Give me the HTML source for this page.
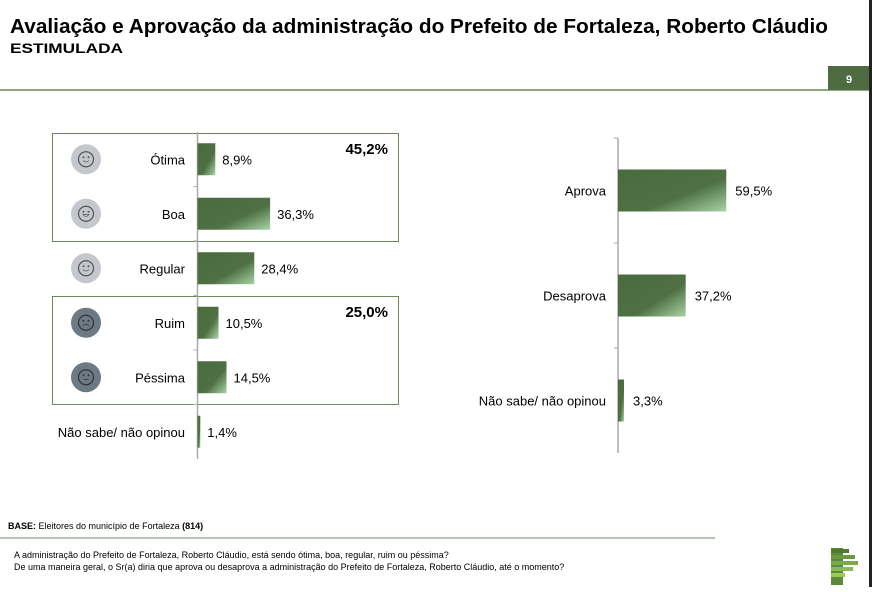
<!DOCTYPE html>
<html><head><meta charset="utf-8"><style>
html,body{margin:0;padding:0;background:#fff;}
body{width:872px;height:587px;overflow:hidden;font-family:"Liberation Sans",sans-serif;}
</style></head><body>
<svg id="chart" width="872" height="587" viewBox="0 0 872 587" xmlns="http://www.w3.org/2000/svg" font-family="Liberation Sans, sans-serif">
<defs>
<linearGradient id="bg" x1="0" y1="0" x2="1" y2="1">
<stop offset="0" stop-color="#4a6b3e"/><stop offset="0.6" stop-color="#4e7042"/><stop offset="1" stop-color="#a9d4a6"/>
</linearGradient>
</defs>
<text x="10" y="33" font-size="20" font-weight="bold" fill="#000" textLength="818" lengthAdjust="spacingAndGlyphs">Avaliação e Aprovação da administração do Prefeito de Fortaleza, Roberto Cláudio</text>
<text x="10" y="53" font-size="14" font-weight="bold" fill="#000" textLength="113" lengthAdjust="spacingAndGlyphs">ESTIMULADA</text>
<line x1="0" y1="90" x2="869" y2="90" stroke="#6b8a5c" stroke-width="1.5"/>
<rect x="828" y="66" width="41" height="24" fill="#4e6b42"/>
<text x="849" y="83" font-size="11" font-weight="bold" fill="#fff" text-anchor="middle">9</text>
<rect x="869" y="0" width="3" height="587" fill="#222"/>

<rect x="52.5" y="133.5" width="346" height="108" fill="none" stroke="#6b8a5c" stroke-width="1"/>
<text x="388" y="154" font-size="15" font-weight="bold" text-anchor="end">45,2%</text>
<rect x="52.5" y="296.5" width="346" height="108" fill="none" stroke="#6b8a5c" stroke-width="1"/>
<text x="388" y="317" font-size="15" font-weight="bold" text-anchor="end">25,0%</text>
<g id="left"></g>
<g id="right"></g>

<text x="8" y="529" font-size="9" fill="#000"><tspan font-weight="bold">BASE:</tspan> Eleitores do município de Fortaleza <tspan font-weight="bold">(814)</tspan></text>
<line x1="0" y1="538" x2="715" y2="538" stroke="#6b8a5c" stroke-width="1"/>
<text x="14" y="558" font-size="9" fill="#000">A administração do Prefeito de Fortaleza, Roberto Cláudio, está sendo ótima, boa, regular, ruim ou péssima?</text>
<text x="14" y="570" font-size="9" fill="#000">De uma maneira geral, o Sr(a) diria que aprova ou desaprova a administração do Prefeito de Fortaleza, Roberto Cláudio,  até o momento?</text>
<g>
<rect x="831" y="548" width="12" height="37" fill="#5a8a3a"/>
<rect x="831" y="549" width="18" height="4" fill="#4e7a30"/>
<rect x="831" y="555" width="24" height="4" fill="#6a9a40"/>
<rect x="831" y="561" width="27" height="4" fill="#7aaa48"/>
<rect x="831" y="567" width="22" height="4" fill="#8aba50"/>
<rect x="831" y="573" width="14" height="4" fill="#9aca58"/>
</g>
</svg>
<script>
const leftCats=["Ótima","Boa","Regular","Ruim","Péssima","Não sabe/ não opinou"];
const leftVals=[8.9,36.3,28.4,10.5,14.5,1.4];
const leftLabels=["8,9%","36,3%","28,4%","10,5%","14,5%","1,4%"];
const rightCats=["Aprova","Desaprova","Não sabe/ não opinou"];
const rightVals=[59.5,37.2,3.3];
const rightLabels=["59,5%","37,2%","3,3%"];
const NS="http://www.w3.org/2000/svg";
function mk(tag,attrs,parent){const e=document.createElementNS(NS,tag);for(const k in attrs)e.setAttribute(k,attrs[k]);parent.appendChild(e);return e;}
// left chart
const L=document.getElementById('left');
const lx0=197.5,lscale=2.0,ltop=132,lstep=54.5,lbh=32;
const lx=v=>lscale*v;
const ly=i=>ltop+lstep*i+lstep/2;
let ax=mk('line',{x1:lx0,y1:ltop,x2:lx0,y2:ltop+lstep*leftCats.length,stroke:'#aaa','stroke-width':1.5},L);


const faceFill=['#c4c8cc','#c4c8cc','#c4c8cc','#6c7a86','#6c7a86'];
const faceMouth=['M-5 2 Q0 7 5 2','M-5 1 Q0 8 5 1 Z','M-5 2 Q0 7 5 2','M-5 5 Q0 0 5 5','M-4 4 L4 4'];
for(let i=0;i<leftCats.length;i++){
 const cy=ly(i);
 if(i>0){const t=mk('line',{x1:lx0-4,y1:ltop+lstep*i,x2:lx0,y2:ltop+lstep*i,stroke:'#aaa'},L);
 
 }
 const b=mk('rect',{x:lx0,y:cy-lbh/2,width:lx(leftVals[i]),height:lbh,fill:'url(#bg)'},L);
 
 
 const v=mk('text',{x:lx0+lx(leftVals[i])+7,y:cy+5,'font-size':13},L);v.textContent=leftLabels[i];
 
 
 const c=mk('text',{x:185,y:cy+5,'font-size':13,'text-anchor':'end'},L);c.textContent=leftCats[i];
 
 
 if(i<5){
  const g=mk('g',{transform:`translate(86,${cy})`},L);
  
  
  const dark=i>=3;
  mk('circle',{r:15,fill:faceFill[i]},g);
  const sc=dark?'#333':'#555';
  mk('circle',{r:7.5,fill:'none',stroke:sc,'stroke-width':1.2},g);
  mk('circle',{cx:-2.5,cy:-2,r:1,fill:sc},g);
  mk('circle',{cx:2.5,cy:-2,r:1,fill:sc},g);
  mk('path',{d:faceMouth[i],fill:'none',stroke:sc,'stroke-width':1.2,transform:'scale(0.6)'},g);
 }
}
// right chart
const R=document.getElementById('right');
const rx0=618,rscale=1.82,rtop=138,rstep=105,rbh=42;
const rx=v=>rscale*v;
const ry=i=>rtop+rstep*i+rstep/2;
let ax2=mk('line',{x1:rx0,y1:rtop,x2:rx0,y2:rtop+rstep*rightCats.length,stroke:'#aaa','stroke-width':1.5},R);


for(let i=0;i<rightCats.length;i++){
 const t=mk('line',{x1:rx0-4,y1:rtop+rstep*i,x2:rx0,y2:rtop+rstep*i,stroke:'#aaa'},R);
 
 
}
for(let i=0;i<rightCats.length;i++){
 const cy=ry(i);
 const b=mk('rect',{x:rx0,y:cy-rbh/2,width:rx(rightVals[i]),height:rbh,fill:'url(#bg)'},R);
 
 
 const v=mk('text',{x:rx0+rx(rightVals[i])+9,y:cy+5,'font-size':13},R);v.textContent=rightLabels[i];
 
 
 const c=mk('text',{x:606,y:cy+5,'font-size':13,'text-anchor':'end'},R);c.textContent=rightCats[i];
 
 
}
</script>
</body></html>
